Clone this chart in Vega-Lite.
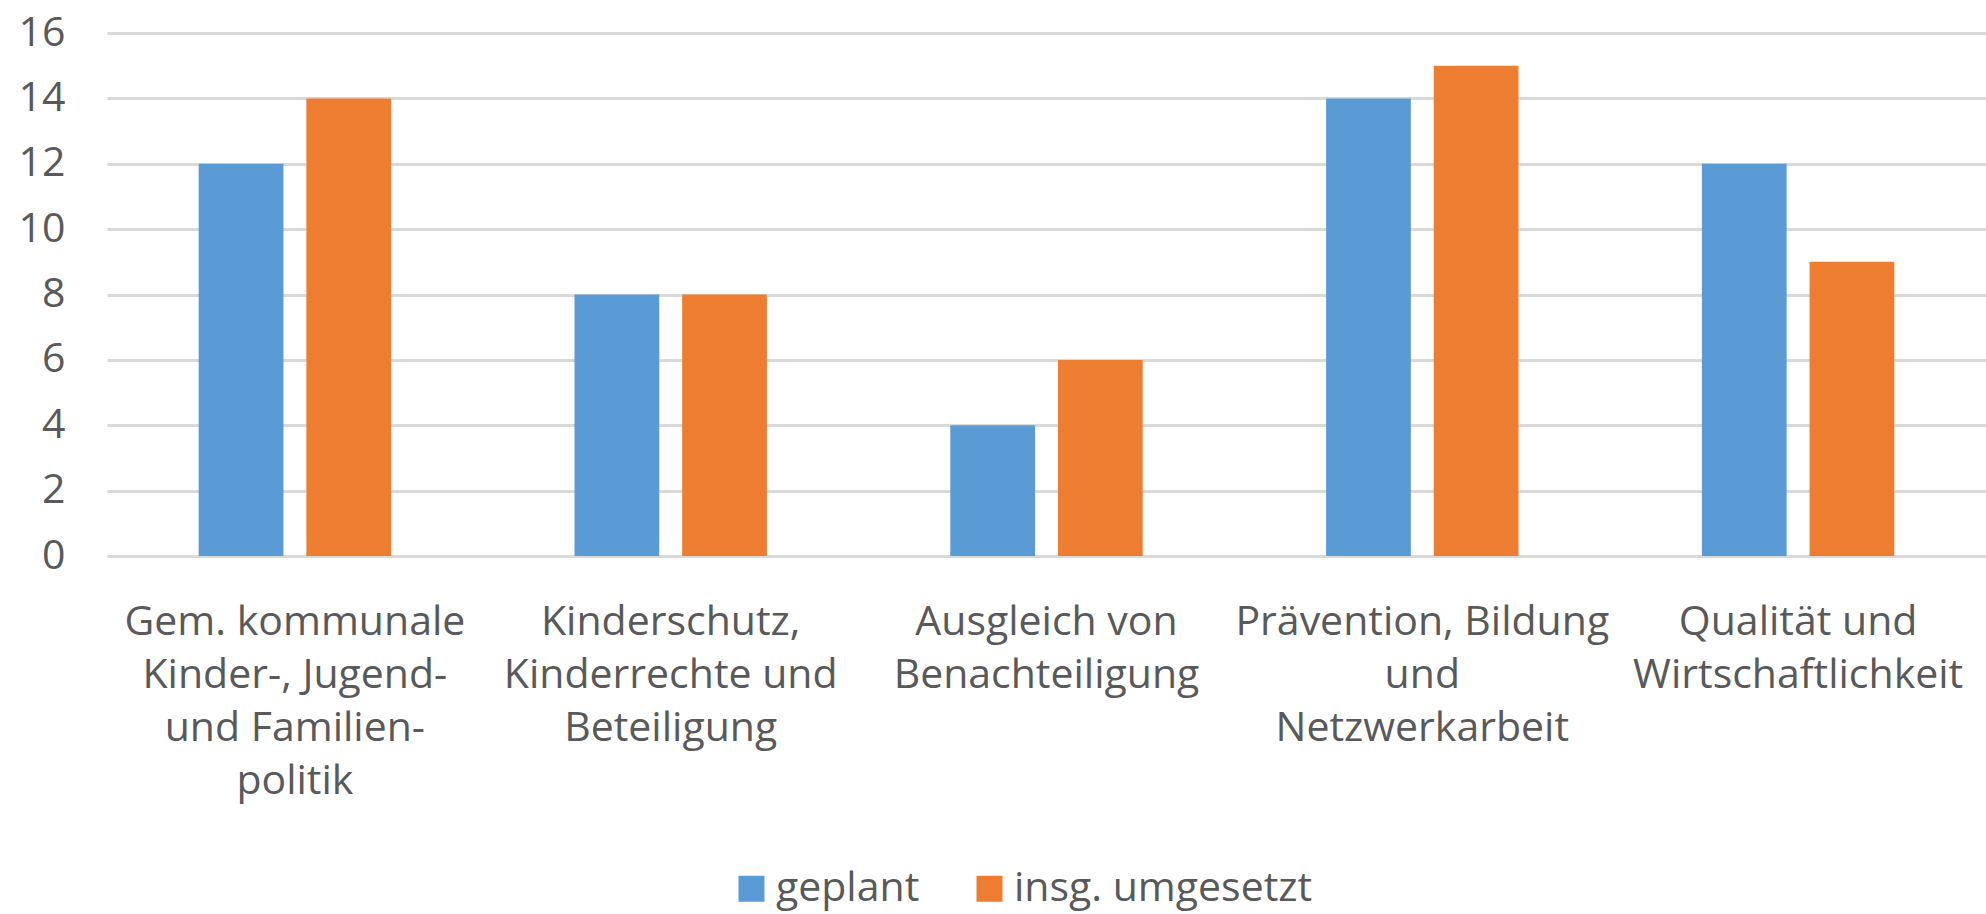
{
  "$schema": "https://vega.github.io/schema/vega-lite/v6.json",
  "autosize": {"type": "none"},
  "padding": {"left": 107, "top": 33, "right": 0, "bottom": 358},
  "width": 1879,
  "height": 523,
  "background": "white",
  "data": {
    "values": [
      {"kategorie": "Gem. kommunale|Kinder-, Jugend-|und Familien-|politik", "serie": "geplant", "wert": 12},
      {"kategorie": "Gem. kommunale|Kinder-, Jugend-|und Familien-|politik", "serie": "insg. umgesetzt", "wert": 14},
      {"kategorie": "Kinderschutz,|Kinderrechte und|Beteiligung", "serie": "geplant", "wert": 8},
      {"kategorie": "Kinderschutz,|Kinderrechte und|Beteiligung", "serie": "insg. umgesetzt", "wert": 8},
      {"kategorie": "Ausgleich von|Benachteiligung", "serie": "geplant", "wert": 4},
      {"kategorie": "Ausgleich von|Benachteiligung", "serie": "insg. umgesetzt", "wert": 6},
      {"kategorie": "Prävention, Bildung|und|Netzwerkarbeit", "serie": "geplant", "wert": 14},
      {"kategorie": "Prävention, Bildung|und|Netzwerkarbeit", "serie": "insg. umgesetzt", "wert": 15},
      {"kategorie": "Qualität und|Wirtschaftlichkeit", "serie": "geplant", "wert": 12},
      {"kategorie": "Qualität und|Wirtschaftlichkeit", "serie": "insg. umgesetzt", "wert": 9}
    ]
  },
  "mark": {"type": "bar"},
  "encoding": {
    "x": {
      "field": "kategorie",
      "type": "nominal",
      "sort": null,
      "scale": {"paddingInner": 0.488, "paddingOuter": 0.244},
      "axis": {
        "title": null,
        "labelAngle": 0,
        "labelExpr": "split(datum.label, '|')",
        "labelFont": "Open Sans",
        "labelFontSize": 41,
        "labelColor": "#595959",
        "labelLineHeight": 53,
        "labelPadding": 46,
        "labelBaseline": "top",
        "labelLimit": 0,
        "labelOverlap": false,
        "domain": false,
        "ticks": false
      }
    },
    "xOffset": {
      "field": "serie",
      "type": "nominal",
      "scale": {"paddingInner": 0.213, "paddingOuter": 0}
    },
    "y": {
      "field": "wert",
      "type": "quantitative",
      "scale": {"domain": [0, 16], "nice": false},
      "axis": {
        "title": null,
        "values": [0, 2, 4, 6, 8, 10, 12, 14, 16],
        "labelFont": "Open Sans",
        "labelFontSize": 41,
        "labelColor": "#595959",
        "labelPadding": 42,
        "domain": false,
        "ticks": false,
        "grid": true,
        "gridColor": "#D9D9D9",
        "gridWidth": 3
      }
    },
    "color": {
      "field": "serie",
      "type": "nominal",
      "scale": {"domain": ["geplant", "insg. umgesetzt"], "range": ["#5B9BD5", "#ED7D31"]},
      "legend": {
        "title": null,
        "orient": "none",
        "direction": "horizontal",
        "legendX": 624,
        "legendY": 835,
        "symbolType": "square",
        "symbolSize": 676,
        "symbolStrokeWidth": 0,
        "labelFont": "Open Sans",
        "labelFontSize": 41,
        "labelColor": "#595959",
        "labelOffset": 4,
        "labelLimit": 0,
        "columnPadding": 49
      }
    }
  },
  "config": {
    "view": {"stroke": null}
  }
}
